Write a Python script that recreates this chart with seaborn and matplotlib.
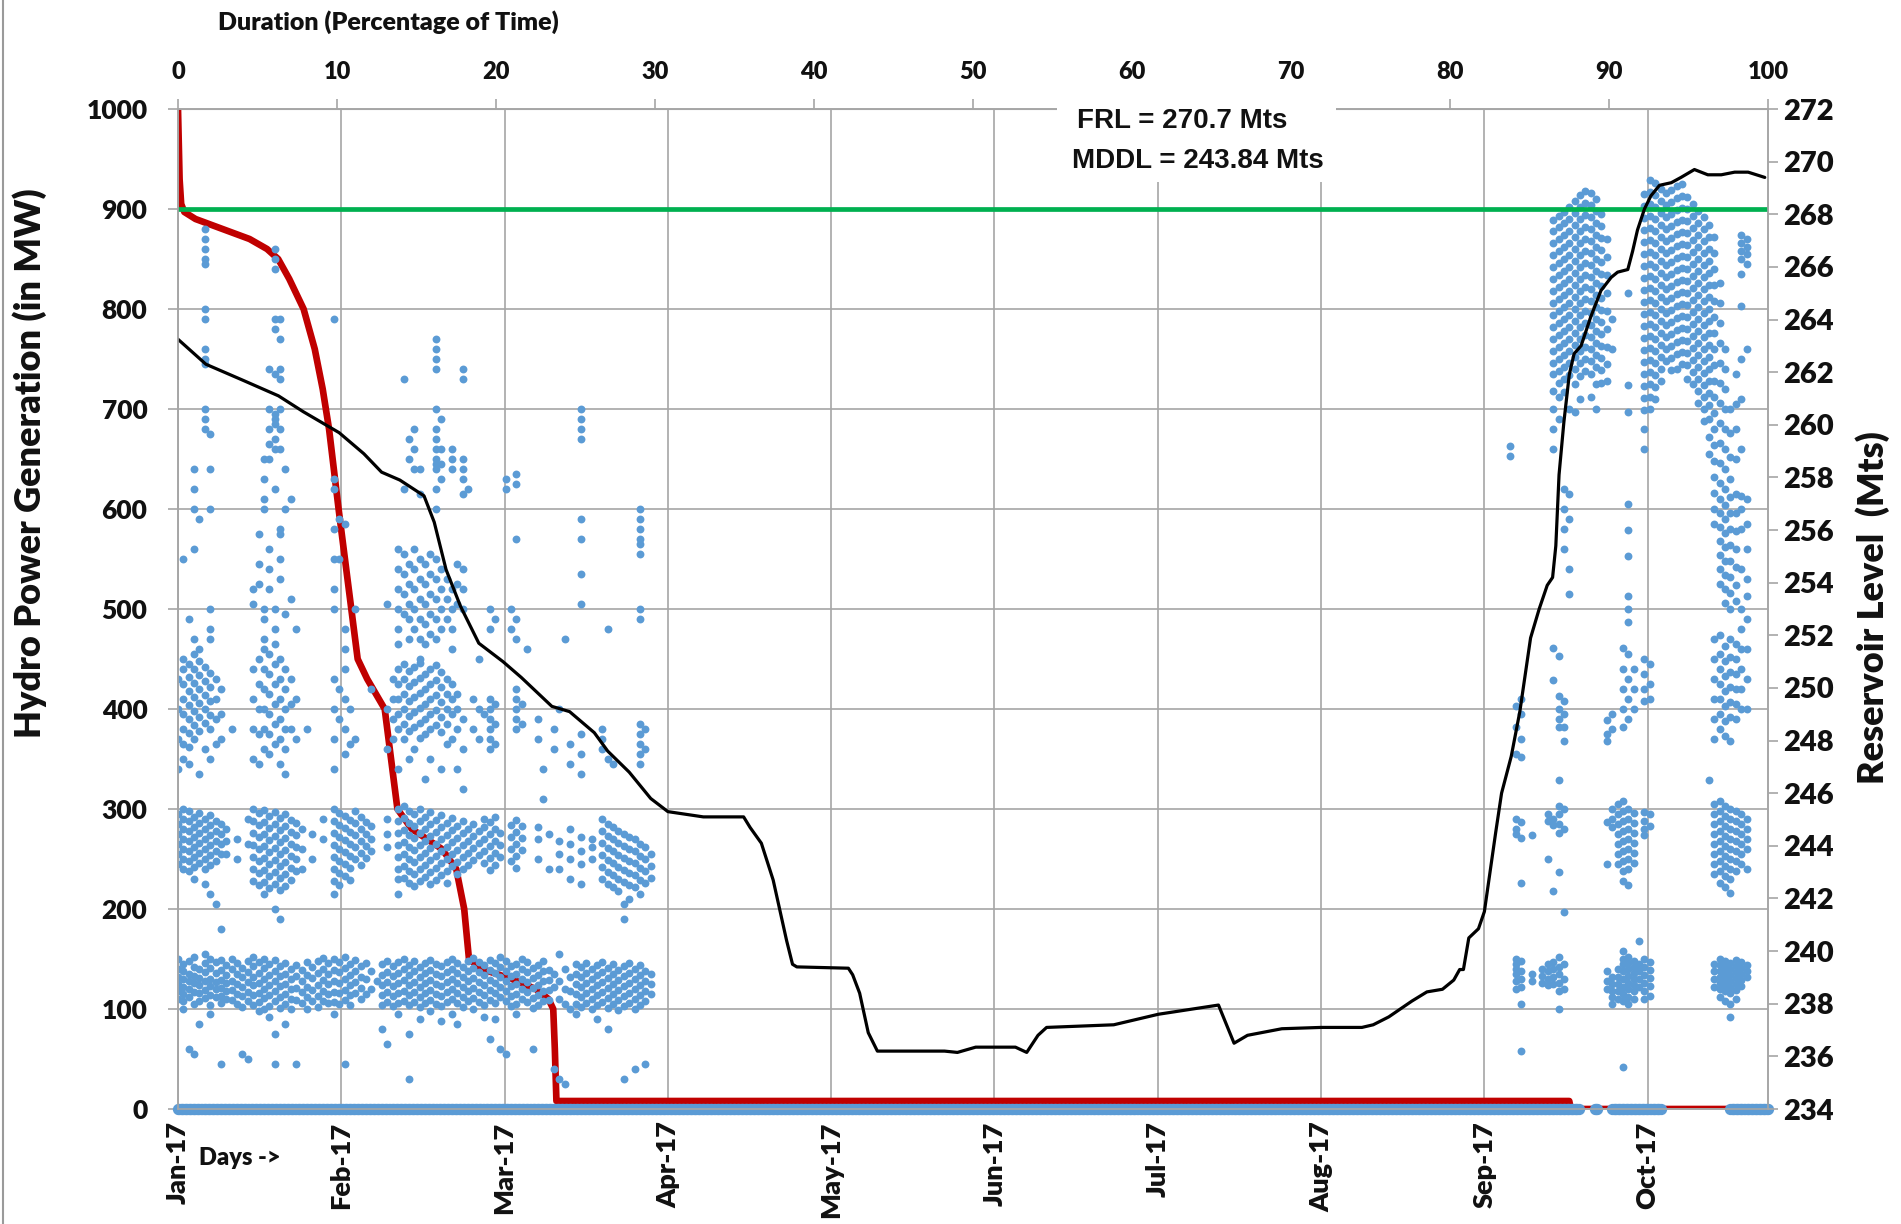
import numpy as np
import pandas as pd
import matplotlib
matplotlib.use("Agg")
import matplotlib.pyplot as plt
import seaborn as sns
from matplotlib.patches import Rectangle
from matplotlib.lines import Line2D

sns.set_style("white")
plt.rcParams["font.family"] = ["Lato", "DejaVu Sans"]
plt.rcParams["font.weight"] = "bold"

# ---------------- axis vocabulary ----------------
month_labels = ["Jan-17", "Feb-17", "Mar-17", "Apr-17", "May-17",
                "Jun-17", "Jul-17", "Aug-17", "Sep-17", "Oct-17"]
pct_ticks = list(range(0, 101, 10))
mw_ticks = list(range(0, 1001, 100))
level_ticks = list(range(234, 273, 2))
RECORD_DAYS = 296        # length of record = 100 % of time
DAYS_PER_LABEL = 30.4    # category axis: one date label every 30.4 days
capacity_mw = 900        # green reference line
frl_text = "FRL = 270.7 Mts"
mddl_text = "MDDL = 243.84 Mts"

# ---------------- reservoir level (right axis) ----------------
level_day = [0.0, 5.2, 12.0, 18.7, 23.3, 30.0, 34.6, 37.9, 41.3, 45.8, 47.7, 49.9,
             52.6, 56.0, 60.5, 63.9, 69.6, 72.9, 77.5, 80.0, 84.0, 88.0, 91.2, 97.8,
             105.3, 106.5, 108.6, 110.8, 113.3, 114.4, 115.2, 124.8, 125.6, 126.9,
             128.5, 130.2, 142.7, 145.1, 148.5, 155.9, 158.0, 160.1, 161.7, 174.2,
             182.5, 193.7, 196.6, 199.1, 205.5, 212.8, 220.4, 222.5, 225.4, 229.7,
             232.5, 235.4, 237.5, 238.6, 239.3, 240.3, 242.1, 243.2, 243.9, 245.3,
             246.4, 248.2, 249.8, 251.8, 253.4, 254.9, 255.9, 256.5, 257.1, 258.0,
             259.0, 259.9, 261.2, 263.0, 264.9, 266.8, 268.0, 269.9, 270.8, 271.7,
             273.0, 274.2, 275.8, 278.0, 279.8, 282.3, 284.8, 287.3, 289.8, 292.3, 295.4]
level_m = [263.25, 262.3, 261.7, 261.1, 260.5, 259.7, 258.9, 258.2, 257.9, 257.3, 256.3, 254.5,
           253.1, 251.7, 251.0, 250.4, 249.3, 249.1, 248.3, 247.6, 246.8, 245.8, 245.3, 245.1,
           245.1, 244.7, 244.1, 242.7, 240.4, 239.5, 239.4, 239.35, 239.1, 238.4,
           236.9, 236.2, 236.2, 236.15, 236.35, 236.35, 236.15, 236.8, 237.1, 237.2,
           237.6, 237.95, 236.5, 236.8, 237.05, 237.1, 237.1, 237.2, 237.5, 238.1,
           238.45, 238.55, 238.9, 239.3, 239.3, 240.5, 240.85, 241.5, 242.5, 244.5,
           246.0, 247.4, 249.1, 251.9, 253.0, 253.9, 254.2, 255.4, 258.1, 260.1,
           261.9, 262.7, 263.0, 264.1, 265.1, 265.6, 265.8, 265.9, 266.6, 267.4,
           268.2, 268.7, 269.1, 269.2, 269.4, 269.7, 269.5, 269.5, 269.6, 269.6, 269.4]

# ---------------- duration curve (top axis, % of time) ----------------
dur_pct = [0.0, 0.1, 0.2, 0.4, 1.1, 2.8, 4.5, 5.6, 6.3, 7.0, 7.9, 8.6, 9.1, 9.5, 9.8,
           10.1, 10.5, 10.9, 11.3, 11.9, 13.0, 13.4, 13.8, 14.7, 16.6, 17.5, 18.0,
           18.3, 19.1, 21.0, 22.5, 23.3, 23.6, 23.7, 23.8, 87.5, 87.6, 100.0]
dur_mw = [1000, 930, 905, 897, 890, 880, 870, 860, 850, 830, 800, 760, 720, 680, 640,
          600, 550, 500, 450, 430, 400, 350, 300, 280, 260, 240, 200,
          150, 140, 130, 120, 110, 100, 60, 8, 8, 0, 0]

# ---------------- generation samples (MW) per day, Jan-Mar ----------------
jan_mar_base = [
    (0, [150, 140, 132, 125, 118, 110]), (1, [145, 138, 130, 122, 115, 108, 100]),
    (2, [148, 135, 128, 120, 112, 60]), (3, [152, 142, 133, 126, 117, 105, 55]),
    (4, [140, 131, 124, 116, 108, 85]), (5, [155, 146, 137, 128, 119, 111]),
    (6, [150, 141, 130, 123, 114, 104, 95]), (7, [147, 136, 127, 120, 112]),
    (8, [149, 139, 129, 121, 113, 106, 45]), (9, [144, 134, 126, 118, 110]),
    (10, [150, 140, 128, 119, 109]), (11, [146, 135, 125, 115, 105]),
    (12, [141, 132, 122, 113, 102, 55]), (13, [148, 137, 127, 117, 108, 50]),
    (14, [152, 143, 132, 124, 114, 104]), (15, [147, 136, 126, 116, 107, 98]),
    (16, [150, 141, 130, 120, 111, 100]), (17, [145, 134, 124, 114, 103, 92]),
    (18, [149, 138, 128, 118, 108, 75, 45]), (19, [143, 133, 123, 112, 101]),
    (20, [146, 135, 125, 115, 105, 85]), (21, [140, 130, 120, 110, 100]),
    (22, [144, 133, 121, 109, 45]), (23, [139, 128, 117, 106]),
    (24, [147, 134, 122, 112, 100]), (25, [142, 131, 119, 108]),
    (26, [148, 136, 124, 113, 102]), (27, [151, 140, 129, 118, 108]),
    (28, [146, 135, 125, 115, 106]), (29, [150, 139, 128, 117, 107, 95]),
    (30, [147, 137, 126, 116, 105]), (31, [152, 141, 130, 119, 109, 45]),
    (32, [145, 134, 124, 114, 104]), (33, [149, 138, 127, 116]),
    (34, [143, 132, 121, 110]), (35, [146, 130, 115]), (36, [138, 120]), (37, [128]),
    (38, [145, 134, 124, 114, 104, 80]), (39, [148, 137, 127, 117, 107, 65]),
    (40, [143, 133, 123, 113, 103]), (41, [147, 136, 126, 116, 106, 95]),
    (42, [150, 140, 129, 118, 108]), (43, [144, 134, 124, 114, 104, 75, 30]),
    (44, [148, 138, 127, 117, 107]), (45, [142, 132, 122, 112, 102, 90]),
    (46, [146, 136, 126, 116, 106]), (47, [149, 139, 129, 119, 109, 98]),
    (48, [145, 135, 125, 115, 105]), (49, [143, 133, 123, 113, 103, 88]),
    (50, [147, 137, 127, 117, 107]), (51, [150, 140, 130, 120, 110, 95]),
    (52, [146, 136, 126, 116, 106, 85]), (53, [142, 132, 122, 112, 102]),
    (54, [148, 138, 128, 118, 108]), (55, [151, 141, 131, 121, 111, 100]),
    (56, [147, 137, 127, 117, 107]), (57, [144, 134, 124, 114, 104, 92]),
    (58, [149, 139, 129, 119, 109, 70]), (59, [146, 136, 126, 116, 106, 90]),
    (60, [152, 142, 132, 122, 112, 60]), (61, [148, 138, 128, 118, 108, 55]),
    (62, [143, 133, 123, 113, 103]), (63, [145, 135, 125, 115, 105, 95]),
    (64, [150, 140, 130, 120, 110]), (65, [147, 137, 127, 117, 107]),
    (66, [141, 131, 121, 111, 101, 60]), (67, [144, 134, 124, 114, 104]),
    (68, [148, 138, 128, 118, 108]), (69, [139, 129, 119, 109]),
    (70, [135, 122, 40]), (71, [155, 128, 110, 30]), (72, [140, 120, 105, 25]),
    (73, [132, 118, 100]), (74, [145, 135, 125, 115, 105, 95]),
    (75, [142, 132, 122, 112, 102]), (76, [146, 136, 126, 116, 106]),
    (77, [140, 130, 120, 110, 100]), (78, [144, 134, 124, 114, 104, 90]),
    (79, [147, 137, 127, 117, 107]), (80, [141, 131, 121, 111, 101, 80]),
    (81, [145, 135, 125, 115, 105]), (82, [139, 129, 119, 109, 99]),
    (83, [143, 133, 123, 113, 103, 30]), (84, [146, 136, 126, 116, 106]),
    (85, [140, 130, 120, 110, 100, 40]), (86, [144, 134, 124, 114, 104]),
    (87, [138, 128, 118, 108, 45]), (88, [135, 125, 115]),
]
jan_mar_mid = [
    (0, [295, 285, 275, 265, 255, 245]), (1, [300, 290, 280, 270, 260, 250, 240]),
    (2, [298, 288, 278, 268, 258, 248, 238]), (3, [292, 282, 272, 262, 252, 242, 230]),
    (4, [296, 286, 276, 266, 256, 246]), (5, [290, 280, 270, 260, 250, 240, 225]),
    (6, [294, 284, 274, 264, 254, 244, 215]), (7, [288, 278, 268, 258, 248, 205]),
    (8, [285, 275, 265, 255, 180]), (9, [280, 268, 255]), (11, [270, 250]), (13, [290, 265]),
    (14, [300, 288, 276, 264, 252, 240, 228]), (15, [296, 284, 272, 260, 248, 236, 224]),
    (16, [299, 287, 275, 263, 251, 239, 227, 215]), (17, [293, 281, 269, 257, 245, 233, 221]),
    (18, [297, 285, 273, 261, 249, 237, 225, 200]), (19, [291, 279, 267, 255, 243, 231, 219, 190]),
    (20, [295, 283, 271, 259, 247, 235, 223]), (21, [289, 277, 265, 253, 241, 229]),
    (22, [286, 274, 262, 250, 238]), (23, [280, 260, 240]), (25, [275, 250]), (27, [290, 270]),
    (29, [300, 288, 276, 264, 252, 240, 228, 215]), (30, [296, 284, 272, 260, 248, 236, 224]),
    (31, [293, 281, 269, 257, 245, 233]), (32, [289, 277, 265, 253, 241, 229]),
    (33, [298, 286, 274, 262, 250]), (34, [292, 280, 268, 256, 244]),
    (35, [287, 275, 263, 251]), (36, [283, 270, 258]), (39, [290, 275, 262]),
    (41, [300, 288, 276, 264, 252, 240, 230, 215]), (42, [303, 291, 279, 267, 255, 243, 231]),
    (43, [298, 286, 274, 262, 250, 238, 226]), (44, [295, 283, 271, 259, 247, 235, 223]),
    (45, [300, 288, 276, 264, 252, 240, 228]), (46, [292, 280, 268, 256, 244, 232]),
    (47, [297, 285, 273, 261, 249, 237, 225]), (48, [289, 277, 265, 253, 241, 229]),
    (49, [294, 282, 270, 258, 246, 234]), (50, [286, 274, 262, 250, 238, 226]),
    (51, [291, 279, 267, 255, 243]), (52, [283, 271, 259, 247, 235]),
    (53, [288, 276, 264, 252, 240]), (54, [280, 268, 256, 244]), (55, [285, 273, 261, 249]),
    (56, [278, 266, 254]), (57, [290, 282, 270, 258, 246]), (58, [287, 275, 263, 251, 239]),
    (59, [292, 280, 268, 256, 244]), (60, [276, 264, 252]), (62, [284, 272, 260, 248]),
    (63, [289, 277, 265, 253, 241]), (64, [283, 271, 259]), (67, [282, 270, 250]),
    (69, [275, 240]), (71, [268, 255, 240]), (73, [280, 265, 250, 230]),
    (75, [272, 258, 245, 225]), (77, [270, 262, 250]),
    (79, [290, 278, 266, 254, 242, 230]), (80, [285, 273, 261, 249, 237, 225]),
    (81, [282, 270, 258, 246, 234, 222]), (82, [278, 266, 254, 242, 230, 218]),
    (83, [275, 263, 251, 239, 227, 205, 190]), (84, [272, 260, 248, 236, 224, 210]),
    (85, [270, 258, 246, 234, 222]), (86, [265, 253, 241, 229, 215]),
    (87, [262, 250, 238, 226]), (88, [255, 243, 231]),
]
jan_mar_upper = [
    (0, [430, 400, 370, 340]), (1, [450, 440, 425, 410, 395, 380, 365, 350]),
    (2, [445, 432, 418, 404, 390, 376, 362, 345]), (3, [455, 440, 426, 412, 398, 384, 370]),
    (4, [448, 434, 420, 406, 392, 378, 335]), (5, [442, 428, 414, 400, 386, 360]),
    (6, [470, 436, 422, 408, 394, 380, 350]), (7, [430, 410, 390, 365]), (8, [420, 395, 370]),
    (10, [380]), (14, [440, 410, 380, 350]), (15, [450, 425, 400, 375, 345]),
    (16, [460, 440, 420, 400, 380, 360]), (17, [455, 435, 415, 395, 375, 355]),
    (18, [445, 425, 405, 385, 365]), (19, [450, 430, 410, 390, 370, 345]),
    (20, [440, 420, 400, 380, 360, 335]), (21, [430, 405, 380]), (22, [410, 370]),
    (24, [380]), (29, [430, 400, 370, 340]), (30, [420, 390]), (31, [440, 410, 380, 355]),
    (32, [400, 365]), (33, [370]), (36, [420]), (39, [400, 360]), (40, [430, 410, 390, 370]),
    (41, [440, 425, 410, 395, 380, 340]), (42, [445, 430, 415, 400, 385, 370]),
    (43, [438, 423, 408, 393, 378, 350]), (44, [442, 427, 412, 397, 382, 360]),
    (45, [446, 431, 416, 401, 386, 371]), (46, [435, 420, 405, 390, 375, 330]),
    (47, [440, 425, 410, 395, 380, 350]), (48, [444, 429, 414, 399, 384]),
    (49, [437, 422, 407, 392, 377, 340]), (50, [430, 415, 400, 385, 365]),
    (51, [425, 410, 395, 370]), (52, [415, 400, 380, 340]), (53, [390, 360, 320]),
    (55, [410, 380]), (56, [400, 370]), (57, [395]), (58, [410, 400, 390, 380, 370, 360]),
    (59, [405, 385, 365]), (63, [420, 410, 400, 390, 380]), (64, [405, 385]),
    (67, [390, 370]), (68, [340, 310]), (70, [380, 360]), (71, [400]), (73, [365, 345]),
    (75, [375, 355, 335]), (79, [380, 370, 360]), (80, [350]), (81, [345]),
    (86, [385, 375, 365, 355, 345]), (87, [380, 360]),
]
jan_mar_high = [
    (1, [550]), (2, [490]), (3, [640, 620, 600, 560, 470]), (4, [590, 460]),
    (5, [880, 870, 860, 850, 845, 800, 790, 760, 750, 745, 700, 690, 680]),
    (6, [675, 640, 600, 500, 480]), (14, [520, 505]), (15, [575, 545, 525]),
    (16, [650, 630, 610, 600, 500, 490, 470]), (17, [740, 700, 680, 665, 650, 560, 540, 520]),
    (18, [860, 850, 840, 790, 780, 735, 695, 690, 685, 670, 660, 620, 500, 480, 465]),
    (19, [790, 770, 740, 730, 700, 680, 660, 580, 575, 550, 530]), (20, [640, 600, 495]),
    (21, [610, 510]), (22, [480]), (29, [790, 630, 620, 580, 550, 520, 500]),
    (30, [590, 550]), (31, [585, 480, 460]), (33, [500]), (39, [505]),
    (41, [560, 540, 520, 500, 480, 465]), (42, [730, 620, 555, 535, 515, 495]),
    (43, [670, 650, 545, 525, 505, 490, 470]), (44, [680, 660, 640, 560, 540, 520, 500, 480]),
    (45, [640, 615, 550, 530, 510, 490, 470, 450]), (46, [545, 525, 505, 485, 465]),
    (47, [555, 535, 515, 495, 475]),
    (48, [770, 760, 750, 740, 700, 680, 670, 660, 650, 645, 640, 620, 600, 550, 530, 510, 490, 470]),
    (49, [690, 660, 645, 630, 540, 520, 500, 480]), (50, [530, 510, 490]),
    (51, [660, 650, 640, 520, 500, 480, 460]), (52, [545, 525, 505]),
    (53, [740, 730, 650, 640, 630, 615, 540, 520, 500]), (54, [620]), (56, [450]),
    (58, [500, 480]), (59, [490]), (61, [630, 620]), (62, [500, 480]),
    (63, [635, 625, 570, 490, 470]), (65, [460]), (72, [470]),
    (75, [700, 690, 680, 670, 590, 570, 535, 505]), (80, [480]),
    (86, [600, 590, 580, 570, 565, 555, 500, 490]),
]

# ---------------- generation samples (MW) per day, Sep-Oct ----------------
sep_oct_base = [
    (249, [150, 145, 140, 135, 128, 120]), (250, [148, 138, 130, 122, 105, 58]),
    (252, [135, 128]), (254, [140, 133, 126]), (255, [145, 138, 130, 124]),
    (256, [147, 140, 132, 125]), (257, [152, 142, 135, 126, 118, 100]), (258, [145, 130, 120]),
    (266, [138, 128, 120]), (267, [132, 125, 118, 112, 105]), (268, [140, 132, 125, 118, 110]),
    (269, [158, 150, 145, 138, 130, 122, 115, 108, 42]),
    (270, [152, 146, 140, 133, 126, 120, 112, 105]), (271, [148, 142, 136, 130, 124, 118, 110]),
    (272, [168, 145, 138, 130, 122]), (273, [150, 142, 134, 126, 118, 110]),
    (274, [147, 139, 131, 123, 113]), (286, [145, 138, 130, 122]),
    (287, [150, 144, 138, 132, 126, 120, 112]), (288, [148, 142, 136, 130, 124, 118, 108]),
    (289, [146, 140, 134, 128, 122, 116, 105, 92]), (290, [149, 143, 137, 131, 125, 119, 110]),
    (291, [147, 141, 135, 129, 123]), (292, [144, 138, 132]),
]
sep_oct_mid = [
    (249, [290, 280, 275]), (250, [287, 271, 226]), (252, [274]), (255, [295, 288, 250]),
    (256, [290, 284, 218]), (257, [329, 303, 295, 285, 276, 237]), (258, [300, 280, 197]),
    (266, [287, 245]), (267, [300, 290, 282]), (268, [305, 295, 285, 275, 265, 255, 245]),
    (269, [308, 298, 288, 278, 268, 258, 248, 238, 228]),
    (270, [300, 290, 280, 270, 260, 250, 240, 224]), (271, [296, 286, 276, 266, 256, 246]),
    (273, [297, 288, 280, 274]), (274, [295, 283]), (285, [329]),
    (286, [305, 295, 285, 275, 265, 255, 245, 235]),
    (287, [308, 298, 288, 278, 268, 258, 248, 238, 226]),
    (288, [303, 293, 283, 273, 263, 253, 243, 233, 222]),
    (289, [300, 290, 280, 270, 260, 250, 240, 230, 216]),
    (290, [298, 288, 278, 268, 258, 248, 238]), (291, [295, 285, 275, 265, 255, 245]),
    (292, [290, 280, 270, 260, 240]),
]
sep_oct_upper = [
    (249, [403, 382, 355]), (250, [410, 395, 370, 352]), (256, [461, 429]),
    (257, [453, 413, 400, 390, 382]), (258, [408, 395, 382, 368]), (266, [389, 375, 368]),
    (267, [395, 380]), (269, [461, 440, 420, 400, 382]), (270, [455, 430, 410, 390]),
    (271, [440, 420, 400]), (273, [450, 435, 420, 408]), (274, [445, 425, 410]),
    (286, [470, 450, 430, 410, 390, 370]), (287, [474, 455, 440, 425, 410, 395, 380]),
    (288, [463, 448, 433, 418, 403, 388, 373]), (289, [470, 452, 437, 422, 407, 392, 368]),
    (290, [465, 450, 435, 420, 405, 390]), (291, [480, 460, 440, 420, 400]),
    (292, [513, 490, 460, 430, 400]),
]
sep_oct_high = [
    (248, [663, 653]),
    (256, [889, 878, 866, 854, 842, 830, 818, 806, 794, 782, 770, 758, 746, 735, 718, 700, 680, 660]),
    (257, [893, 882, 870, 858, 846, 834, 822, 810, 798, 786, 774, 762, 750, 738, 726, 712, 690]),
    (258, [897, 886, 874, 862, 850, 838, 826, 814, 802, 790, 778, 766, 754, 742, 730, 717, 620, 600, 580, 560]),
    (259, [902, 890, 878, 866, 854, 842, 830, 818, 806, 794, 782, 770, 758, 746, 734, 700, 615, 590, 540, 515]),
    (260, [908, 896, 884, 872, 860, 848, 836, 824, 812, 800, 788, 776, 764, 752, 740, 725, 697]),
    (261, [914, 902, 890, 878, 866, 854, 842, 830, 818, 806, 794, 782, 770, 758, 746, 733, 710]),
    (262, [918, 906, 894, 882, 870, 858, 846, 834, 822, 810, 798, 786, 774, 762, 750, 738]),
    (263, [916, 904, 892, 880, 868, 856, 844, 832, 820, 808, 796, 784, 772, 760, 748, 735, 712]),
    (264, [910, 898, 886, 874, 862, 850, 838, 826, 814, 802, 790, 778, 766, 754, 742, 725, 700]),
    (265, [895, 883, 871, 859, 847, 835, 823, 811, 799, 787, 775, 763, 751, 739, 726]),
    (266, [870, 852, 834, 816, 798, 780, 762, 745, 728]),
    (267, [790, 760]),
    (270, [816, 724, 697, 605, 579, 553, 513, 500, 487]),
    (273, [915, 903, 891, 879, 867, 855, 843, 831, 819, 807, 795, 783, 771, 759, 747, 735, 723, 711, 699, 680, 660]),
    (274, [929, 917, 905, 893, 881, 869, 857, 845, 833, 821, 809, 797, 785, 773, 761, 749, 737, 725, 712, 700]),
    (275, [926, 914, 902, 890, 878, 866, 854, 842, 830, 818, 806, 794, 782, 770, 758, 746, 734, 722, 710]),
    (276, [920, 908, 896, 884, 872, 860, 848, 836, 824, 812, 800, 788, 776, 764, 752, 740, 728]),
    (277, [916, 904, 892, 880, 868, 856, 844, 832, 820, 808, 796, 784, 772, 760, 748]),
    (278, [919, 907, 895, 883, 871, 859, 847, 835, 823, 811, 799, 787, 775, 763, 751, 739]),
    (279, [923, 911, 899, 887, 875, 863, 851, 839, 827, 815, 803, 791, 779, 767, 755, 740]),
    (280, [925, 913, 901, 889, 877, 865, 853, 841, 829, 817, 805, 793, 781, 769, 757, 745]),
    (281, [912, 900, 888, 876, 864, 852, 840, 828, 816, 804, 792, 780, 768, 756, 744, 730]),
    (282, [905, 893, 881, 869, 857, 845, 833, 821, 809, 797, 785, 773, 761, 749, 737, 725]),
    (283, [898, 886, 874, 862, 850, 838, 826, 814, 802, 790, 778, 766, 754, 742, 730, 718, 706]),
    (284, [892, 880, 868, 856, 844, 832, 820, 808, 796, 784, 772, 760, 748, 736, 724, 712, 700, 688]),
    (285, [884, 872, 860, 848, 836, 824, 812, 800, 788, 776, 764, 752, 740, 728, 716, 704, 690, 672, 655]),
    (286, [872, 856, 840, 824, 808, 792, 776, 760, 744, 728, 712, 696, 680, 664, 648, 632, 616, 600, 585]),
    (287, [826, 806, 786, 766, 746, 726, 706, 686, 666, 646, 626, 610, 596, 582, 568, 554, 540, 525]),
    (288, [760, 740, 720, 700, 680, 660, 640, 620, 604, 590, 576, 562, 548, 534, 520, 506]),
    (289, [700, 676, 652, 630, 612, 596, 580, 564, 548, 532, 516, 500]),
    (290, [735, 705, 680, 650, 615, 596, 578, 560, 542, 524, 508]),
    (291, [874, 866, 858, 850, 835, 803, 750, 710, 660, 613, 600, 580, 540, 500]),
    (292, [870, 862, 855, 845, 760, 610, 585, 560, 530]),
]

# zero-output samples: every quarter day, except spans of continuous generation
zero_sample_step = 0.25
full_output_spans = [(260.9, 263.6), (264.4, 267.0), (276.2, 288.8)]

# ---------------- frames ----------------
def columns_to_frame(*groups):
    rows = [(d, v) for g in groups for d, vals in g for v in vals]
    return pd.DataFrame(rows, columns=["day", "mw"])

gen_df = columns_to_frame(jan_mar_base, jan_mar_mid, jan_mar_upper, jan_mar_high,
                          sep_oct_base, sep_oct_mid, sep_oct_upper, sep_oct_high)
t = np.arange(0, RECORD_DAYS + 1e-9, zero_sample_step)
keep = np.ones(len(t), dtype=bool)
for a, b in full_output_spans:
    keep &= ~((t > a) & (t < b))
zero_df = pd.DataFrame({"day": t[keep], "mw": np.zeros(keep.sum())})
dur_df = pd.DataFrame({"day": np.array(dur_pct) * RECORD_DAYS / 100.0, "mw": dur_mw})
lvl_df = pd.DataFrame({"day": level_day, "level": level_m})

# ---------------- styling ----------------
W, H = 1901, 1224
BLUE = "#5B9BD5"
RED = "#C00000"
GREEN = "#00B050"
GRID = "#A6A6A6"
TXT = "#111111"

fig = plt.figure(figsize=(W / 100, H / 100), dpi=100)
fig.patch.set_facecolor("white")
ax = fig.add_axes([178 / W, 1 - 1109 / H, 1590 / W, 1000 / H])
ax.set_xlim(0, RECORD_DAYS)
ax.set_ylim(0, 1000)
ax.set_axisbelow(True)
ax.grid(True, color=GRID, lw=1.2)

sns.lineplot(data=dur_df, x="day", y="mw", ax=ax, color=RED, lw=4.8,
             sort=False, estimator=None, zorder=2)
sns.scatterplot(data=zero_df, x="day", y="mw", ax=ax, color=BLUE, s=66, marker="o",
                linewidth=0, zorder=3, clip_on=False)
sns.scatterplot(data=gen_df, x="day", y="mw", ax=ax, color=BLUE, s=32, marker="o",
                linewidth=0, zorder=3)
ax.axhline(capacity_mw, color=GREEN, lw=3.4, zorder=4)
ax.set_xlabel("")
ax.set_ylabel("")

ax.set_xticks([k * DAYS_PER_LABEL for k in range(len(month_labels))])
ax.set_xticklabels(month_labels, rotation=90, fontsize=19.5, fontweight="heavy", color=TXT)
ax.set_yticks(mw_ticks)
ax.set_yticklabels([str(v) for v in mw_ticks], fontsize=19, fontweight="heavy", color=TXT)
ax.tick_params(axis="y", length=7, pad=15, color=GRID, width=1.2)
ax.tick_params(axis="x", length=6, pad=3, color=GRID, width=1.2)
for s in ax.spines.values():
    s.set_color(GRID)
    s.set_linewidth(1.2)

ax_r = ax.twinx()
sns.lineplot(data=lvl_df, x="day", y="level", ax=ax_r, color="black", lw=2.3,
             sort=False, estimator=None)
ax_r.set_ylim(234, 272)
ax_r.set_xlim(0, RECORD_DAYS)
ax_r.set_yticks(level_ticks)
ax_r.set_yticklabels([str(v) for v in level_ticks], fontsize=21, fontweight="heavy", color=TXT)
ax_r.tick_params(axis="y", length=7, pad=4, color=GRID, width=1.2)
ax_r.set_ylabel("")
ax_r.set_xlabel("")
ax_r.grid(False)
for s in ax_r.spines.values():
    s.set_color(GRID)
    s.set_linewidth(1.2)

secax = ax.secondary_xaxis("top", functions=(lambda d: d * 100.0 / RECORD_DAYS,
                                             lambda p: p * RECORD_DAYS / 100.0))
secax.set_xticks(pct_ticks)
secax.set_xticklabels([str(v) for v in pct_ticks], fontsize=17, fontweight="heavy", color=TXT)
secax.tick_params(axis="x", length=7, pad=12, color=GRID, width=1.2)
secax.spines["top"].set_color(GRID)

# texts
fig.text(30 / W, 1 - 463 / H, "Hydro Power Generation (in MW)", rotation=90,
         ha="center", va="center", fontsize=26, fontweight="heavy", color=TXT)
fig.text(1873 / W, 1 - 608 / H, "Reservoir Level  (Mts)", rotation=90,
         ha="center", va="center", fontsize=26, fontweight="heavy", color=TXT)
fig.text(218 / W, 1 - 22 / H, "Duration (Percentage of Time)", ha="left", va="center",
         fontsize=18, fontweight="heavy", color=TXT)
fig.text(199 / W, 1 - 1158 / H, "Days ->", ha="left", va="center",
         fontsize=17, fontweight="heavy", color=TXT)

# FRL / MDDL box
fig.add_artist(Rectangle((1057 / W, 1 - 182 / H), (1336 - 1057) / W, (182 - 99) / H,
                         transform=fig.transFigure, facecolor="white", edgecolor="none",
                         zorder=10))
fig.text(1182 / W, 1 - 121 / H, frl_text, ha="center", va="center", fontsize=20,
         fontweight="bold", family=["Liberation Sans", "DejaVu Sans"], color=TXT, zorder=11)
fig.text(1198 / W, 1 - 161 / H, mddl_text, ha="center", va="center", fontsize=20,
         fontweight="bold", family=["Liberation Sans", "DejaVu Sans"], color=TXT, zorder=11)

# outer left border line
fig.add_artist(Line2D([0.0015, 0.0015], [0, 1], transform=fig.transFigure,
                      color="#9A9A9A", lw=1.5))

fig.savefig("out.png", dpi=100)
